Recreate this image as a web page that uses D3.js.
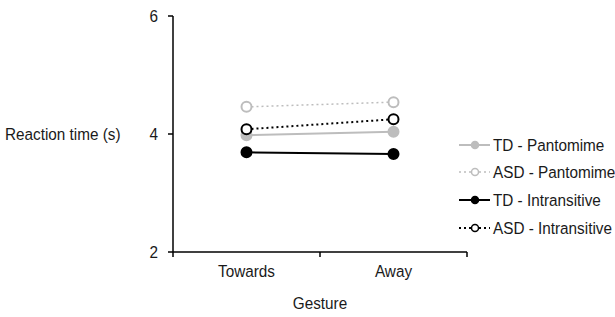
<!DOCTYPE html>
<html><head><meta charset="utf-8">
<script src="https://cdn.jsdelivr.net/npm/d3@7"></script>
<style>body{margin:0;background:#fff}svg{display:block}text{font-family:"Liberation Sans",Arial,sans-serif;fill:#1a1a1a}</style>
</head><body><svg id="c" width="615" height="317"></svg>
<script>
const categories = ["Towards", "Away"];
const seriesNames = ["TD - Pantomime", "ASD - Pantomime", "TD - Intransitive", "ASD - Intransitive"];
const tdPantomime = [3.98, 4.04];
const asdPantomime = [4.46, 4.54];
const tdIntransitive = [3.69, 3.66];
const asdIntransitive = [4.08, 4.25];
const yTicks = [2, 4, 6];

const styles = [
  {color:"#bdbdbd", fill:"#bdbdbd", dash:null, w:2},
  {color:"#bdbdbd", fill:"#fff", dash:"2,3", w:1.5},
  {color:"#000", fill:"#000", dash:null, w:2},
  {color:"#000", fill:"#fff", dash:"2,3", w:2}
];
const data = [tdPantomime, asdPantomime, tdIntransitive, asdIntransitive];

const svg = d3.select("#c");
const y = d3.scaleLinear().domain([2, 6]).range([252, 16]);
const x = d3.scaleBand().domain(categories).range([173, 467]);
const cx = c => x(c) + x.bandwidth() / 2;

function label(px, py, str, anchor) {
  svg.append("g").attr("transform", `translate(${px},${py}) scale(0.9,1)`)
    .append("text").attr("dy","0.36em").attr("text-anchor",anchor||"start").attr("font-size",17).text(str);
}

// y axis
svg.append("line").attr("x1",173).attr("x2",173).attr("y1",y(6)).attr("y2",y(2)).attr("stroke","#000").attr("stroke-width",1.5);
yTicks.forEach(t => {
  svg.append("line").attr("x1",168).attr("x2",173).attr("y1",y(t)).attr("y2",y(t)).attr("stroke","#000").attr("stroke-width",1.5);
  label(158, y(t), t, "end");
});
// x axis
svg.append("line").attr("x1",173).attr("x2",467).attr("y1",252).attr("y2",252).attr("stroke","#000").attr("stroke-width",1.5);
[173, 320, 467].forEach(px => {
  svg.append("line").attr("x1",px).attr("x2",px).attr("y1",252).attr("y2",257).attr("stroke","#000").attr("stroke-width",1.5);
});
categories.forEach(c => label(cx(c), 271, c, "middle"));
label(320, 303, "Gesture", "middle");
label(5, 134, "Reaction time (s)", "start");

const line = d3.line().x((d,i) => cx(categories[i])).y(d => y(d));
data.forEach((vals, si) => {
  const s = styles[si];
  svg.append("path").attr("d", line(vals)).attr("fill","none").attr("stroke",s.color).attr("stroke-width",s.w).attr("stroke-dasharray",s.dash);
});
data.forEach((vals, si) => {
  const s = styles[si];
  vals.forEach((v,i) => {
    svg.append("circle").attr("cx",cx(categories[i])).attr("cy",y(v)).attr("r",5).attr("fill",s.fill).attr("stroke",s.color).attr("stroke-width",2);
  });
});

// legend
const legY = [145, 172, 200, 228];
seriesNames.forEach((n, si) => {
  const s = styles[si];
  svg.append("line").attr("x1",459).attr("x2",490).attr("y1",legY[si]).attr("y2",legY[si]).attr("stroke",s.color).attr("stroke-width",s.w).attr("stroke-dasharray",s.dash);
  svg.append("circle").attr("cx",475).attr("cy",legY[si]).attr("r",3.5).attr("fill",s.fill).attr("stroke",s.color).attr("stroke-width",1.5);
  label(493, legY[si], n, "start");
});
</script></body></html>
